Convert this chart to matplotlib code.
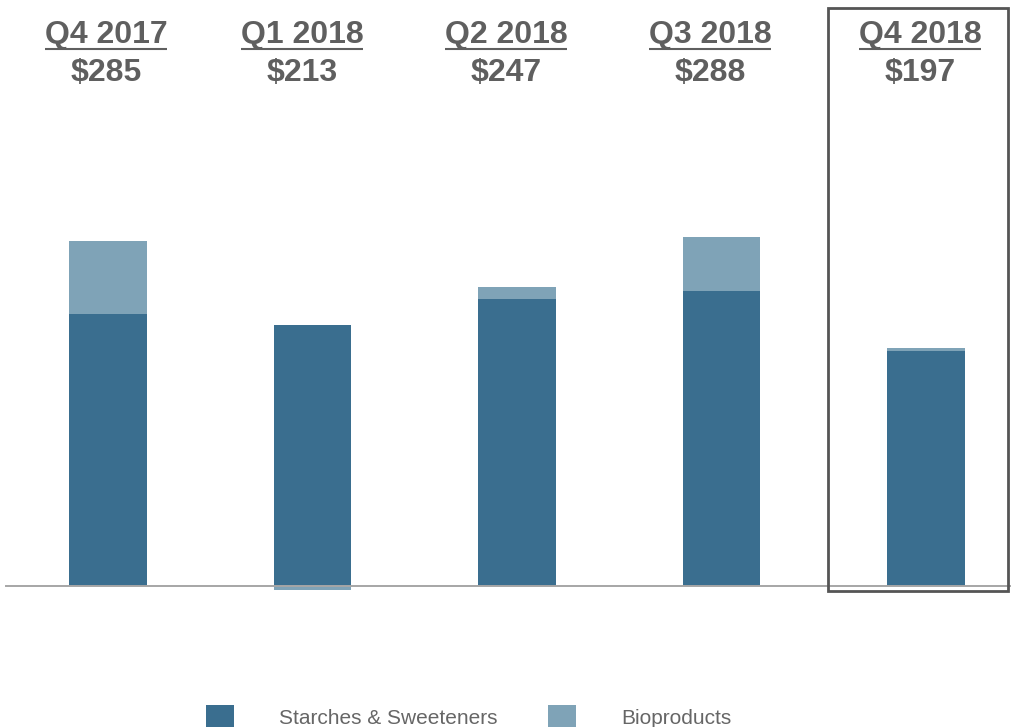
import matplotlib
matplotlib.use("Agg")
import matplotlib.pyplot as plt
from matplotlib.patches import Rectangle, Patch

plt.rcParams["font.family"] = ["Liberation Sans", "DejaVu Sans"]

quarters = ["Q4 2017", "Q1 2018", "Q2 2018", "Q3 2018", "Q4 2018"]
totals = ["$285", "$213", "$247", "$288", "$197"]
starches = [225, 216, 237, 244, 194]
bioproducts = [60, -3, 10, 44, 3]

# header label centres (slightly offset from the bars in the original)
header_x = [-0.01, 0.949, 1.946, 2.944, 3.971]

DARK = "#3a6e8f"
LIGHT = "#7fa3b7"
GRAY = "#5f5f5f"

fig = plt.figure(figsize=(10.15, 7.27), dpi=100)
ax = fig.add_axes([0, 0, 1, 1])
ax.set_xlim(-0.528, 4.435)
ax.set_ylim(-116.5, 484.1)
ax.axis("off")

x = list(range(len(quarters)))
w = 0.38
ax.bar(x, starches, width=w, color=DARK, zorder=2)
bio_bottom = [s if b >= 0 else 0 for s, b in zip(starches, bioproducts)]
ax.bar(x, bioproducts, width=w, bottom=bio_bottom, color=LIGHT, zorder=2)

# baseline
ax.axhline(0, xmin=0.006, xmax=0.995, color="#a6a6a6", lw=1.4, zorder=3)

# header labels
tr = ax.get_xaxis_transform()
for hx, q, t in zip(header_x, quarters, totals):
    ax.text(hx, 1 - 35 / 727, q, transform=tr, ha="center", va="center",
            fontsize=23, fontweight="bold", color=GRAY)
    ax.plot([hx - 0.298, hx + 0.298], [1 - 48.5 / 727] * 2, transform=tr,
            color=GRAY, lw=1.5, solid_capstyle="butt")
    ax.text(hx, 1 - 73 / 727, t, transform=tr, ha="center", va="center",
            fontsize=23, fontweight="bold", color=GRAY)

# highlight box around latest quarter
ax.add_patch(Rectangle((3.52, -4.1), 0.88, 481.6, fill=False,
                       edgecolor="#555555", lw=2.0, zorder=4))

handles = [Patch(facecolor=DARK, edgecolor="none", label="Starches & Sweeteners"),
           Patch(facecolor=LIGHT, edgecolor="none", label="Bioproducts")]
leg = fig.legend(handles=handles, loc="center", bbox_to_anchor=(0.4617, 0.014),
                 ncol=2, frameon=False, fontsize=15, handlelength=1.35,
                 handleheight=1.4, handletextpad=2.16, columnspacing=2.4)
for txt in leg.get_texts():
    txt.set_color("#666666")

fig.savefig("out.png", dpi=100)
